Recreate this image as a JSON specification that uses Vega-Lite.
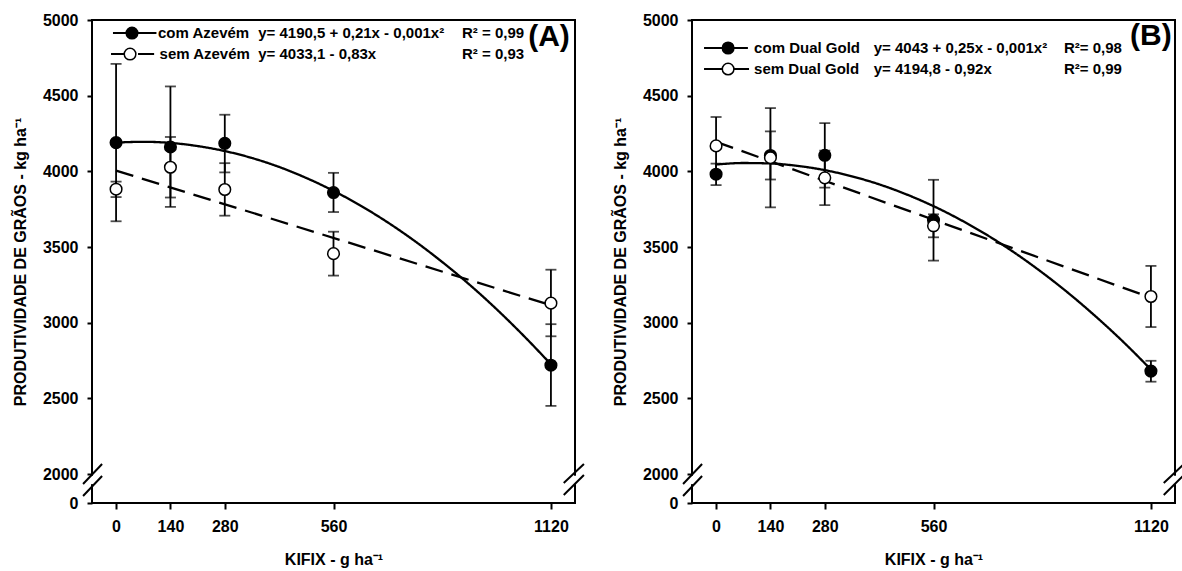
{
  "$schema": "https://vega.github.io/schema/vega-lite/v6.json",
  "background": "white",
  "padding": {"left": 11, "top": 11, "right": 3, "bottom": 3},
  "spacing": 117,
  "bounds": "flush",
  "config": {
    "view": {"stroke": "black", "strokeWidth": 2},
    "font": "Liberation Sans",
    "axis": {"labelFont": "Liberation Sans", "labelFontWeight": "bold", "labelFontSize": 16, "labelColor": "black", "titleFont": "Liberation Sans", "titleFontWeight": "bold", "titleFontSize": 16, "titleColor": "black", "tickColor": "black", "tickWidth": 2, "domain": false, "grid": false}
  },
  "datasets": {
    "points": [
      {"panel": "A", "serie": "com", "x": 0, "y": 4190, "lo": 3670, "hi": 4710},
      {"panel": "A", "serie": "com", "x": 140, "y": 4161, "lo": 3765, "hi": 4561},
      {"panel": "A", "serie": "com", "x": 280, "y": 4185, "lo": 3993, "hi": 4374},
      {"panel": "A", "serie": "com", "x": 560, "y": 3860, "lo": 3731, "hi": 3990},
      {"panel": "A", "serie": "com", "x": 1120, "y": 2719, "lo": 2450, "hi": 2990},
      {"panel": "A", "serie": "sem", "x": 0, "y": 3882, "lo": 3830, "hi": 3932},
      {"panel": "A", "serie": "sem", "x": 140, "y": 4027, "lo": 3827, "hi": 4227},
      {"panel": "A", "serie": "sem", "x": 280, "y": 3880, "lo": 3707, "hi": 4054},
      {"panel": "A", "serie": "sem", "x": 560, "y": 3456, "lo": 3311, "hi": 3601},
      {"panel": "A", "serie": "sem", "x": 1120, "y": 3129, "lo": 2910, "hi": 3350},
      {"panel": "B", "serie": "com", "x": 0, "y": 3981, "lo": 3909, "hi": 4051},
      {"panel": "B", "serie": "com", "x": 140, "y": 4105, "lo": 3946, "hi": 4264},
      {"panel": "B", "serie": "com", "x": 280, "y": 4106, "lo": 3893, "hi": 4319},
      {"panel": "B", "serie": "com", "x": 560, "y": 3678, "lo": 3410, "hi": 3944},
      {"panel": "B", "serie": "com", "x": 1120, "y": 2680, "lo": 2610, "hi": 2748},
      {"panel": "B", "serie": "sem", "x": 0, "y": 4168, "lo": 3977, "hi": 4359},
      {"panel": "B", "serie": "sem", "x": 140, "y": 4090, "lo": 3762, "hi": 4418},
      {"panel": "B", "serie": "sem", "x": 280, "y": 3957, "lo": 3777, "hi": 4137},
      {"panel": "B", "serie": "sem", "x": 560, "y": 3640, "lo": 3564, "hi": 3716},
      {"panel": "B", "serie": "sem", "x": 1120, "y": 3173, "lo": 2971, "hi": 3375}
    ],
    "curves": [
      {"panel": "A", "serie": "com", "x": 0, "y": 4190},
      {"panel": "A", "serie": "com", "x": 70, "y": 4195},
      {"panel": "A", "serie": "com", "x": 140, "y": 4188},
      {"panel": "A", "serie": "com", "x": 210, "y": 4167},
      {"panel": "A", "serie": "com", "x": 280, "y": 4134},
      {"panel": "A", "serie": "com", "x": 350, "y": 4088},
      {"panel": "A", "serie": "com", "x": 420, "y": 4029},
      {"panel": "A", "serie": "com", "x": 490, "y": 3956},
      {"panel": "A", "serie": "com", "x": 560, "y": 3871},
      {"panel": "A", "serie": "com", "x": 630, "y": 3773},
      {"panel": "A", "serie": "com", "x": 700, "y": 3662},
      {"panel": "A", "serie": "com", "x": 770, "y": 3538},
      {"panel": "A", "serie": "com", "x": 840, "y": 3401},
      {"panel": "A", "serie": "com", "x": 910, "y": 3252},
      {"panel": "A", "serie": "com", "x": 980, "y": 3089},
      {"panel": "A", "serie": "com", "x": 1050, "y": 2913},
      {"panel": "A", "serie": "com", "x": 1120, "y": 2725},
      {"panel": "A", "serie": "sem", "x": 0, "y": 4005},
      {"panel": "A", "serie": "sem", "x": 1120, "y": 3115},
      {"panel": "B", "serie": "com", "x": 0, "y": 4045},
      {"panel": "B", "serie": "com", "x": 70, "y": 4055},
      {"panel": "B", "serie": "com", "x": 140, "y": 4052},
      {"panel": "B", "serie": "com", "x": 210, "y": 4036},
      {"panel": "B", "serie": "com", "x": 280, "y": 4008},
      {"panel": "B", "serie": "com", "x": 350, "y": 3967},
      {"panel": "B", "serie": "com", "x": 420, "y": 3914},
      {"panel": "B", "serie": "com", "x": 490, "y": 3848},
      {"panel": "B", "serie": "com", "x": 560, "y": 3770},
      {"panel": "B", "serie": "com", "x": 630, "y": 3679},
      {"panel": "B", "serie": "com", "x": 700, "y": 3576},
      {"panel": "B", "serie": "com", "x": 770, "y": 3460},
      {"panel": "B", "serie": "com", "x": 840, "y": 3331},
      {"panel": "B", "serie": "com", "x": 910, "y": 3190},
      {"panel": "B", "serie": "com", "x": 980, "y": 3036},
      {"panel": "B", "serie": "com", "x": 1050, "y": 2870},
      {"panel": "B", "serie": "com", "x": 1120, "y": 2690},
      {"panel": "B", "serie": "sem", "x": 0, "y": 4195},
      {"panel": "B", "serie": "sem", "x": 1120, "y": 3165}
    ],
    "legendSymbols": [
      {"panel": "A", "serie": "com", "x1": -8, "x2": 104, "x": 41, "y": 4914},
      {"panel": "A", "serie": "sem", "x1": -13, "x2": 98, "x": 36, "y": 4775},
      {"panel": "B", "serie": "com", "x1": -31, "x2": 82, "x": 31, "y": 4815},
      {"panel": "B", "serie": "sem", "x1": -31, "x2": 88, "x": 31, "y": 4676}
    ],
    "legendText": [
      {"panel": "A", "x": 108, "y": 4914, "text": "com Azevém"},
      {"panel": "A", "x": 366, "y": 4914, "text": "y= 4190,5 + 0,21x - 0,001x²"},
      {"panel": "A", "x": 891, "y": 4914, "text": "R² = 0,99"},
      {"panel": "A", "x": 112, "y": 4775, "text": "sem Azevém"},
      {"panel": "A", "x": 366, "y": 4775, "text": "y= 4033,1 - 0,83x"},
      {"panel": "A", "x": 891, "y": 4775, "text": "R² = 0,93"},
      {"panel": "B", "x": 98, "y": 4815, "text": "com Dual Gold"},
      {"panel": "B", "x": 406, "y": 4815, "text": "y= 4043 + 0,25x - 0,001x²"},
      {"panel": "B", "x": 896, "y": 4815, "text": "R²= 0,98"},
      {"panel": "B", "x": 98, "y": 4676, "text": "sem Dual Gold"},
      {"panel": "B", "x": 406, "y": 4676, "text": "y= 4194,8 - 0,92x"},
      {"panel": "B", "x": 896, "y": 4676, "text": "R²= 0,99"}
    ],
    "panelLabels": [
      {"panel": "A", "x": 1115, "y": 4888, "text": "(A)"},
      {"panel": "B", "x": 1120, "y": 4894, "text": "(B)"}
    ],
    "breaks": [
      {"x": -85, "y": 1310, "x2": -36, "y2": 2066},
      {"x": -85, "y": 483, "x2": -36, "y2": 1862},
      {"x": 1153, "y": 1379, "x2": 1205, "y2": 2066},
      {"x": 1153, "y": 552, "x2": 1205, "y2": 1931}
    ],
    "gaps": [
      {"x": -62, "y": 1300, "y2": 1880},
      {"x": 1182, "y": 1300, "y2": 1880}
    ]
  },
  "hconcat": [
    {
      "width": 483,
      "height": 483,
      "encoding": {
        "x": {"field": "x", "type": "quantitative", "scale": {"domain": [-62, 1182], "nice": false, "zero": false}, "axis": {"values": [0, 140, 280, 560, 1120], "title": "KIFIX - g ha⁻¹", "tickSize": 6, "labelPadding": 9, "titlePadding": 17, "format": "d"}},
        "y": {"field": "y", "type": "quantitative", "scale": {"domain": [0, 2000, 5000], "range": [483, 454, 0], "nice": false, "zero": false}, "axis": {"values": [0, 2000, 2500, 3000, 3500, 4000, 4500, 5000], "title": "PRODUTIVIDADE DE GRÃOS - kg ha⁻¹", "tickSize": 5, "labelPadding": 9, "titlePadding": 14, "format": "d"}}
      },
      "layer": [
        {"data": {"name": "curves"}, "transform": [{"filter": "datum.panel == 'A'"}], "mark": {"type": "line", "color": "black", "strokeWidth": 2.3, "interpolate": "monotone"}, "encoding": {"detail": {"field": "serie"}, "strokeDash": {"field": "serie", "type": "nominal", "scale": {"domain": ["com", "sem"], "range": [[1, 0], [18, 9]]}, "legend": null}}},
        {"data": {"name": "points"}, "transform": [{"filter": "datum.panel == 'A'"}], "mark": {"type": "rule", "color": "black", "strokeWidth": 1.8}, "encoding": {"y": {"field": "lo", "type": "quantitative"}, "y2": {"field": "hi"}}},
        {"data": {"name": "points"}, "transform": [{"filter": "datum.panel == 'A'"}], "mark": {"type": "tick", "orient": "horizontal", "size": 11, "thickness": 1.8, "color": "black"}, "encoding": {"y": {"field": "hi", "type": "quantitative"}}},
        {"data": {"name": "points"}, "transform": [{"filter": "datum.panel == 'A'"}], "mark": {"type": "tick", "orient": "horizontal", "size": 11, "thickness": 1.8, "color": "black"}, "encoding": {"y": {"field": "lo", "type": "quantitative"}}},
        {"data": {"name": "points"}, "transform": [{"filter": "datum.panel == 'A'"}], "mark": {"type": "point", "shape": "circle", "filled": true, "size": 135, "stroke": "black", "strokeWidth": 1.5, "opacity": 1}, "encoding": {"fill": {"field": "serie", "type": "nominal", "scale": {"domain": ["com", "sem"], "range": ["black", "white"]}, "legend": null}}},
        {"data": {"name": "legendSymbols"}, "transform": [{"filter": "datum.panel == 'A'"}], "mark": {"type": "rule", "color": "black", "strokeWidth": 2}, "encoding": {"x": {"field": "x1", "type": "quantitative"}, "x2": {"field": "x2"}, "strokeDash": {"field": "serie", "type": "nominal", "legend": null}}},
        {"data": {"name": "legendSymbols"}, "transform": [{"filter": "datum.panel == 'A'"}], "mark": {"type": "point", "shape": "circle", "filled": true, "size": 135, "stroke": "black", "strokeWidth": 1.5, "opacity": 1}, "encoding": {"fill": {"field": "serie", "type": "nominal", "legend": null}}},
        {"data": {"name": "legendText"}, "transform": [{"filter": "datum.panel == 'A'"}], "mark": {"type": "text", "align": "left", "baseline": "middle", "font": "Liberation Sans", "fontWeight": "bold", "fontSize": 15, "color": "black"}, "encoding": {"text": {"field": "text"}}},
        {"data": {"name": "panelLabels"}, "transform": [{"filter": "datum.panel == 'A'"}], "mark": {"type": "text", "align": "center", "baseline": "middle", "font": "Liberation Sans", "fontWeight": "bold", "fontSize": 30, "color": "black"}, "encoding": {"text": {"field": "text"}}},
        {"data": {"name": "gaps"}, "mark": {"type": "rule", "color": "white", "strokeWidth": 5}, "encoding": {"y2": {"field": "y2"}}},
        {"data": {"name": "breaks"}, "mark": {"type": "rule", "color": "black", "strokeWidth": 2}, "encoding": {"x2": {"field": "x2"}, "y2": {"field": "y2"}}}
      ]
    },
    {
      "width": 483,
      "height": 483,
      "encoding": {
        "x": {"field": "x", "type": "quantitative", "scale": {"domain": [-62, 1182], "nice": false, "zero": false}, "axis": {"values": [0, 140, 280, 560, 1120], "title": "KIFIX - g ha⁻¹", "tickSize": 6, "labelPadding": 9, "titlePadding": 17, "format": "d"}},
        "y": {"field": "y", "type": "quantitative", "scale": {"domain": [0, 2000, 5000], "range": [483, 454, 0], "nice": false, "zero": false}, "axis": {"values": [0, 2000, 2500, 3000, 3500, 4000, 4500, 5000], "title": "PRODUTIVIDADE DE GRÃOS - kg ha⁻¹", "tickSize": 5, "labelPadding": 9, "titlePadding": 14, "format": "d"}}
      },
      "layer": [
        {"data": {"name": "curves"}, "transform": [{"filter": "datum.panel == 'B'"}], "mark": {"type": "line", "color": "black", "strokeWidth": 2.3, "interpolate": "monotone"}, "encoding": {"detail": {"field": "serie"}, "strokeDash": {"field": "serie", "type": "nominal", "scale": {"domain": ["com", "sem"], "range": [[1, 0], [18, 9]]}, "legend": null}}},
        {"data": {"name": "points"}, "transform": [{"filter": "datum.panel == 'B'"}], "mark": {"type": "rule", "color": "black", "strokeWidth": 1.8}, "encoding": {"y": {"field": "lo", "type": "quantitative"}, "y2": {"field": "hi"}}},
        {"data": {"name": "points"}, "transform": [{"filter": "datum.panel == 'B'"}], "mark": {"type": "tick", "orient": "horizontal", "size": 11, "thickness": 1.8, "color": "black"}, "encoding": {"y": {"field": "hi", "type": "quantitative"}}},
        {"data": {"name": "points"}, "transform": [{"filter": "datum.panel == 'B'"}], "mark": {"type": "tick", "orient": "horizontal", "size": 11, "thickness": 1.8, "color": "black"}, "encoding": {"y": {"field": "lo", "type": "quantitative"}}},
        {"data": {"name": "points"}, "transform": [{"filter": "datum.panel == 'B'"}], "mark": {"type": "point", "shape": "circle", "filled": true, "size": 135, "stroke": "black", "strokeWidth": 1.5, "opacity": 1}, "encoding": {"fill": {"field": "serie", "type": "nominal", "scale": {"domain": ["com", "sem"], "range": ["black", "white"]}, "legend": null}}},
        {"data": {"name": "legendSymbols"}, "transform": [{"filter": "datum.panel == 'B'"}], "mark": {"type": "rule", "color": "black", "strokeWidth": 2}, "encoding": {"x": {"field": "x1", "type": "quantitative"}, "x2": {"field": "x2"}, "strokeDash": {"field": "serie", "type": "nominal", "legend": null}}},
        {"data": {"name": "legendSymbols"}, "transform": [{"filter": "datum.panel == 'B'"}], "mark": {"type": "point", "shape": "circle", "filled": true, "size": 135, "stroke": "black", "strokeWidth": 1.5, "opacity": 1}, "encoding": {"fill": {"field": "serie", "type": "nominal", "legend": null}}},
        {"data": {"name": "legendText"}, "transform": [{"filter": "datum.panel == 'B'"}], "mark": {"type": "text", "align": "left", "baseline": "middle", "font": "Liberation Sans", "fontWeight": "bold", "fontSize": 15, "color": "black"}, "encoding": {"text": {"field": "text"}}},
        {"data": {"name": "panelLabels"}, "transform": [{"filter": "datum.panel == 'B'"}], "mark": {"type": "text", "align": "center", "baseline": "middle", "font": "Liberation Sans", "fontWeight": "bold", "fontSize": 30, "color": "black"}, "encoding": {"text": {"field": "text"}}},
        {"data": {"name": "gaps"}, "mark": {"type": "rule", "color": "white", "strokeWidth": 5}, "encoding": {"y2": {"field": "y2"}}},
        {"data": {"name": "breaks"}, "mark": {"type": "rule", "color": "black", "strokeWidth": 2}, "encoding": {"x2": {"field": "x2"}, "y2": {"field": "y2"}}}
      ]
    }
  ]
}
